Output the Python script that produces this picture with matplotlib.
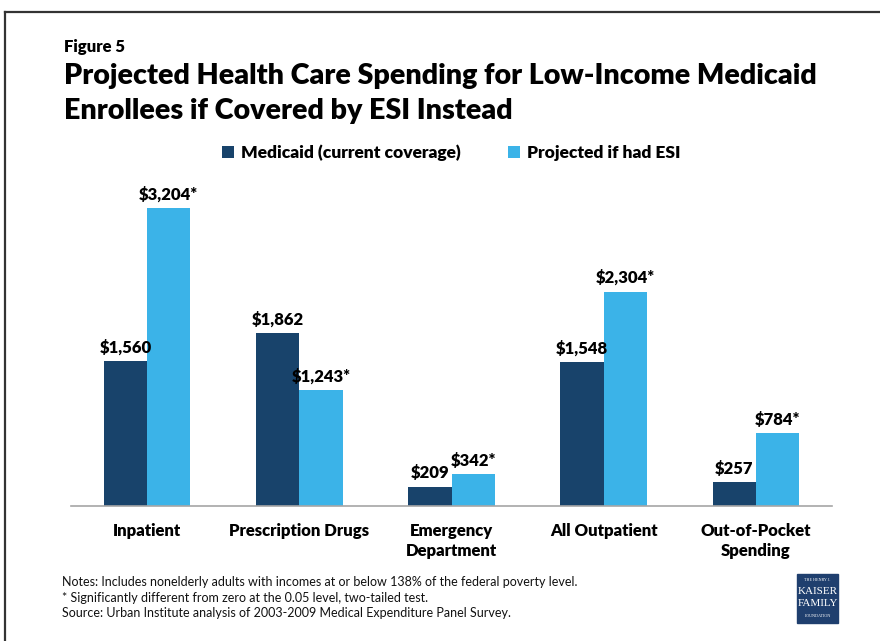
import numpy as np
import matplotlib
matplotlib.use("Agg")
from matplotlib import pyplot as plt
from matplotlib.patches import Rectangle

plt.rcParams['font.family'] = ['Lato', 'DejaVu Sans']

#chart data
categories = ["Inpatient", "Prescription Drugs", "Emergency\nDepartment",
              "All Outpatient", "Out-of-Pocket\nSpending"]
medicaid = [1560, 1862, 209, 1548, 257]
esi = [3204, 1243, 342, 2304, 784]
esi_sig = [True, True, True, True, True]
series_names = ["Medicaid (current coverage)", "Projected if had ESI"]

dark = "#18436b"
light = "#3bb3e8"
bold = "heavy"

fig = plt.figure(figsize=(8.8, 6.41), dpi=100)
W, H = 880, 641

def px(x, y):
    return x / W, 1 - y / H

#frame around the figure (left and top only visible)
fig.add_artist(plt.Line2D([5/W, 5/W], [0, 1 - 12/H], color="#333333", lw=1.6))
fig.add_artist(plt.Line2D([5/W, 1], [1 - 12/H, 1 - 12/H], color="#333333", lw=1.6))

#titles
fig.text(*px(64, 52), "Figure 5", fontsize=12, fontweight=bold, va="baseline")
fig.text(*px(64, 84), "Projected Health Care Spending for Low-Income Medicaid",
         fontsize=20.6, fontweight=bold, va="baseline")
fig.text(*px(64, 119), "Enrollees if Covered by ESI Instead",
         fontsize=20.6, fontweight=bold, va="baseline")

#axes placed in pixel coords
left, right, bottom, top = 71, 832, 506, 180.5
ax = fig.add_axes([left / W, 1 - bottom / H, (right - left) / W, (bottom - top) / H])
x = np.arange(len(categories))
w = 0.284
b1 = ax.bar(x - w / 2, medicaid, w, color=dark, label=series_names[0])
b2 = ax.bar(x + w / 2, esi, w, color=light, label=series_names[1])
ax.set_xlim(-0.5, len(categories) - 0.5)
ax.set_ylim(0, 3500)

for xi, v in zip(x, medicaid):
    ax.text(xi - w / 2, v + 60, f"${v:,}", ha="center", va="bottom",
            fontsize=12, fontweight=bold)
for xi, v, s in zip(x, esi, esi_sig):
    ax.text(xi + w / 2, v + 60, f"${v:,}" + ("*" if s else ""), ha="center",
            va="bottom", fontsize=12, fontweight=bold)

for sp in ["top", "right", "left"]:
    ax.spines[sp].set_visible(False)
ax.spines["bottom"].set_color("#a6a6a6")
ax.spines["bottom"].set_linewidth(1.2)
ax.set_yticks([])
ax.set_xticks(x)
ax.set_xticklabels(categories, fontsize=12, fontweight=bold, linespacing=1.35)
ax.tick_params(axis="x", length=0, pad=12)

#legend
leg = fig.legend(handles=[b1, b2], loc="center left", bbox_to_anchor=px(222, 153),
                 ncol=2, frameon=False, prop={"weight": bold, "size": 12.5},
                 handlelength=0.7, handleheight=0.7, handletextpad=0.4,
                 columnspacing=2.7, borderaxespad=0, borderpad=0)

#notes
notes = ["Notes: Includes nonelderly adults with incomes at or below 138% of the federal poverty level.",
         "* Significantly different from zero at the 0.05 level, two-tailed test.",
         "Source: Urban Institute analysis of 2003-2009 Medical Expenditure Panel Survey."]
for i, n in enumerate(notes):
    fig.text(*px(62, 586 + i * 15.5), n, fontsize=9.0, va="baseline", color="#111111")

#logo
lx, ly, lw, lh = 797, 574, 41, 49
fig.add_artist(Rectangle(px(lx, ly + lh), lw / W, lh / H, color="#1f3f6e",
                         transform=fig.transFigure))
cx = (lx + lw / 2) / W
fig.text(cx, 1 - 580 / H, "THE HENRY J.", fontsize=3, color="white", ha="center",
         va="center", family="Liberation Serif")
fig.text(cx, 1 - 591 / H, "KAISER", fontsize=8, color="white", ha="center",
         va="center", family="Liberation Serif")
fig.text(cx, 1 - 604 / H, "FAMILY", fontsize=8, color="white", ha="center",
         va="center", family="Liberation Serif")
fig.text(cx, 1 - 616 / H, "FOUNDATION", fontsize=3, color="white", ha="center",
         va="center", family="Liberation Serif")

fig.savefig("out.png", dpi=100)
